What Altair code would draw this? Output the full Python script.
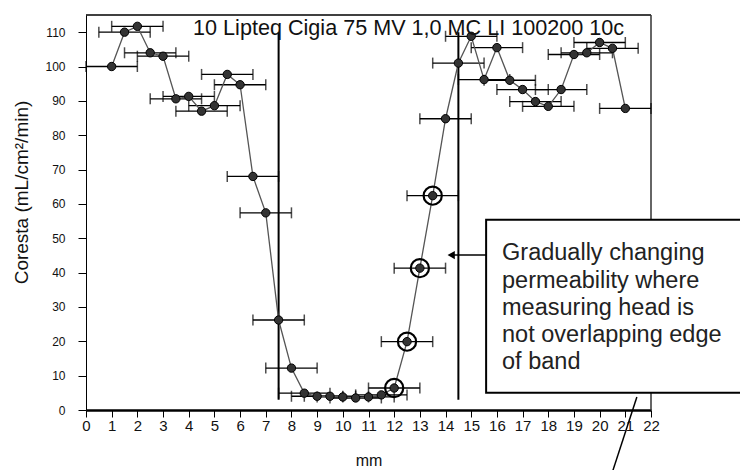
import altair as alt
import pandas as pd

# Positions of the measuring head along the sample (mm)
position_mm = [1.0, 1.5, 2.0, 2.5, 3.0, 3.5, 4.0, 4.5, 5.0, 5.5, 6.0, 6.5, 7.0,
               7.5, 8.0, 8.5, 9.0, 9.5, 10.0, 10.5, 11.0, 11.5, 12.0, 12.5, 13.0,
               13.5, 14.0, 14.5, 15.0, 15.5, 16.0, 16.5, 17.0, 17.5, 18.0, 18.5,
               19.0, 19.5, 20.0, 20.5, 21.0]
# Coresta air permeability at each position (mL/cm2/min)
coresta = [100, 110, 111.7, 104, 103, 90.6, 91.3, 87, 88.6, 97.7, 94.7, 68, 57.4,
           26.2, 12.2, 4.9, 4.0, 4.0, 3.8, 3.5, 3.8, 4.4, 6.4, 19.9, 41.3,
           62.4, 84.8, 101, 108.8, 96.2, 105.5, 96, 93.3, 89.8, 88.4, 93.3,
           103.5, 104, 107, 105.3, 87.8]
# Half-width of the measuring head window (mm)
head_half_width = 1.0
# Readings taken while the head only partly overlaps the band edge
highlighted_mm = [12.0, 12.5, 13.0, 13.5]
# Edges of the band (mm)
band_edges_mm = [7.5, 14.5]

x_ticks = list(range(0, 23))
y_ticks = list(range(0, 111, 10))
x_max, y_max = 22, 115

plot_label = "10 Lipteq Cigia 75 MV 1,0 MC LI 100200 10c"
note_lines = ["Gradually changing", "permeability where", "measuring head is",
              "not overlapping edge", "of band"]

FONT = "Liberation Sans"

df = pd.DataFrame({"mm": position_mm, "coresta": coresta})
df["lo"] = df["mm"] - head_half_width
df["hi"] = df["mm"] + head_half_width
df["ring"] = df["mm"].isin(highlighted_mm)

caps = pd.concat([
    pd.DataFrame({"mm": df["lo"], "coresta": df["coresta"]}),
    pd.DataFrame({"mm": df["hi"], "coresta": df["coresta"]}),
])

x_scale = alt.Scale(domain=[0, x_max], nice=False, zero=False)
y_scale = alt.Scale(domain=[0, y_max], nice=False)

x_axis = alt.Axis(values=x_ticks, title="mm", format="d", grid=False,
                  domainWidth=2.5, tickSize=7, labelPadding=1,
                  labelOverlap=False, labelFlush=False,
                  labelFontSize=15, titleFontSize=16, titlePadding=19,
                  titleFontWeight="normal")
y_axis = alt.Axis(values=y_ticks, title="Coresta (mL/cm²/min)", format="d",
                  grid=False, domainWidth=1, tickSize=8, labelPadding=13,
                  labelOverlap=False, labelFlush=False,
                  labelFontSize=12, titleFontSize=19, titlePadding=13,
                  titleFontWeight="normal", titleY=177)


def X(field):
    return alt.X(field, type="quantitative", scale=x_scale, axis=x_axis)


def Y(field):
    return alt.Y(field, type="quantitative", scale=y_scale, axis=y_axis)


# Plot frame: top and right edges
frame_top = alt.Chart(pd.DataFrame({"x0": [0], "x1": [x_max], "y": [y_max]})).mark_rule(
    color="black", strokeWidth=1.5).encode(x=X("x0"), x2="x1", y=Y("y"))
frame_right = alt.Chart(pd.DataFrame({"x": [x_max], "y0": [0], "y1": [y_max]})).mark_rule(
    color="#333", strokeWidth=1.5).encode(x=X("x"), y=Y("y0"), y2="y1")

# Band edge markers
edges = alt.Chart(pd.DataFrame({"edge": band_edges_mm, "y0": [3, 3], "y1": [110, 110]})).mark_rule(
    color="black", strokeWidth=2).encode(x=X("edge"), y=Y("y0"), y2="y1")

# Horizontal error bars for the head width
err = alt.Chart(df).mark_rule(color="black", strokeWidth=1.3).encode(
    x=X("lo"), x2="hi", y=Y("coresta"))
err_caps = alt.Chart(caps).mark_tick(color="black", thickness=1.5, size=11,
                                     orient="vertical").encode(
    x=X("mm"), y=Y("coresta"))

trace = alt.Chart(df).mark_line(color="#555", strokeWidth=1.3).encode(
    x=X("mm"), y=Y("coresta"))
dots = alt.Chart(df).mark_point(filled=True, shape="circle", size=70,
                                fill="#333", stroke="black", strokeWidth=1,
                                opacity=1).encode(x=X("mm"), y=Y("coresta"))
rings = alt.Chart(df[df["ring"]]).mark_point(shape="circle", size=330, filled=False,
                                             stroke="black", strokeWidth=2.2,
                                             opacity=1).encode(
    x=X("mm"), y=Y("coresta"))

label = alt.Chart(pd.DataFrame({"x": [4.17], "y": [110.9], "t": [plot_label]})).mark_text(
    align="left", baseline="middle", font=FONT, fontSize=21.6, color="#111").encode(
    x=X("x"), y=Y("y"), text="t")

# Callout box with its arrow and leader line
box = alt.Chart(pd.DataFrame({"x0": [15.58], "x1": [26.5], "y0": [5.0], "y1": [55.4]})).mark_rect(
    fill="white", stroke="black", strokeWidth=2).encode(
    x=X("x0"), x2="x1", y=Y("y0"), y2="y1")

note_df = pd.DataFrame({"t": note_lines,
                        "x": [16.2] * len(note_lines),
                        "y": [45.7, 37.6, 29.7, 21.8, 14.0]})
note = alt.Chart(note_df).mark_text(align="left", baseline="middle", font=FONT,
                                    fontSize=23.5, color="#222").encode(
    x=X("x"), y=Y("y"), text="t")

arrow_shaft = alt.Chart(pd.DataFrame({"x0": [14.3], "x1": [15.58], "y": [45.1]})).mark_rule(
    color="black", strokeWidth=1.5).encode(x=X("x0"), x2="x1", y=Y("y"))
arrow_head = alt.Chart(pd.DataFrame({"x": [14.22], "y": [45.1]})).mark_point(
    shape="triangle-left", filled=True, size=70, color="black", opacity=1).encode(
    x=X("x"), y=Y("y"))
leader = alt.Chart(pd.DataFrame({"x0": [21.45], "x1": [20.52], "y0": [3.8], "y1": [-17.5]})).mark_rule(
    color="black", strokeWidth=1.5).encode(x=X("x0"), x2="x1", y=Y("y0"), y2="y1")

chart = alt.layer(
    frame_top, frame_right, edges, err, err_caps, trace, dots, rings, label,
    box, note, arrow_shaft, arrow_head, leader,
).properties(
    width=565, height=395,
    autosize=alt.AutoSizeParams(type="none"),
    padding={"left": 86, "top": 15, "right": 89, "bottom": 60},
    background="white",
).configure_view(stroke=None).configure_axis(
    domainColor="black", tickColor="black", labelColor="#111", titleColor="#111",
    labelFont=FONT, titleFont=FONT,
)

chart.save("out.html", embed_options={"renderer": "svg", "actions": False})
